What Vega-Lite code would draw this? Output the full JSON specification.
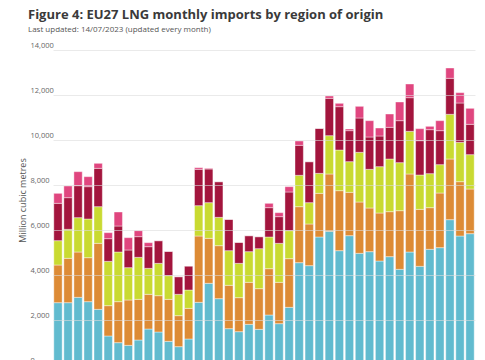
{
  "$schema": "https://vega.github.io/schema/vega-lite/v6.json",
  "autosize": "none",
  "width": 447,
  "height": 315,
  "padding": {"left": 30, "top": 50, "right": 8, "bottom": 0},
  "background": "white",
  "config": {"view": {"stroke": null}},
  "title": {
    "text": "Figure 4: EU27 LNG monthly imports by region of origin",
    "subtitle": "Last updated: 14/07/2023 (updated every month)",
    "anchor": "start",
    "frame": "group",
    "dx": -2,
    "offset": 7,
    "font": "Open Sans",
    "fontSize": 13,
    "fontWeight": "bold",
    "color": "#3a3a3a",
    "subtitleFont": "Open Sans",
    "subtitleFontSize": 8,
    "subtitleColor": "#555555",
    "subtitlePadding": 4
  },
  "data": {
    "values": [
      {"month": "2020-01", "United States": 2770, "Russia": 1674, "Qatar": 1082, "Africa": 1659, "Other": 444},
      {"month": "2020-02", "United States": 2770, "Russia": 1971, "Qatar": 1289, "Africa": 1407, "Other": 518},
      {"month": "2020-03", "United States": 3007, "Russia": 2015, "Qatar": 1526, "Africa": 1422, "Other": 622},
      {"month": "2020-04", "United States": 2815, "Russia": 1955, "Qatar": 1719, "Africa": 1437, "Other": 444},
      {"month": "2020-05", "United States": 2474, "Russia": 2933, "Qatar": 1630, "Africa": 1703, "Other": 223},
      {"month": "2020-06", "United States": 1289, "Russia": 1348, "Qatar": 1970, "Africa": 1008, "Other": 266},
      {"month": "2020-07", "United States": 993, "Russia": 1822, "Qatar": 2207, "Africa": 1155, "Other": 623},
      {"month": "2020-08", "United States": 874, "Russia": 2015, "Qatar": 1437, "Africa": 785, "Other": 548},
      {"month": "2020-09", "United States": 1111, "Russia": 1807, "Qatar": 1867, "Africa": 919, "Other": 266},
      {"month": "2020-10", "United States": 1600, "Russia": 1541, "Qatar": 1155, "Africa": 963, "Other": 178},
      {"month": "2020-11", "United States": 1467, "Russia": 1614, "Qatar": 1437, "Africa": 1008, "Other": 0},
      {"month": "2020-12", "United States": 1052, "Russia": 1866, "Qatar": 1052, "Africa": 1082, "Other": 0},
      {"month": "2021-01", "United States": 815, "Russia": 1378, "Qatar": 948, "Africa": 785, "Other": 0},
      {"month": "2021-02", "United States": 1156, "Russia": 1362, "Qatar": 815, "Africa": 1067, "Other": 0},
      {"month": "2021-03", "United States": 2785, "Russia": 2948, "Qatar": 1348, "Africa": 1615, "Other": 74},
      {"month": "2021-04", "United States": 3630, "Russia": 2000, "Qatar": 1585, "Africa": 1496, "Other": 30},
      {"month": "2021-05", "United States": 2948, "Russia": 2356, "Qatar": 1259, "Africa": 1585, "Other": 0},
      {"month": "2021-06", "United States": 1615, "Russia": 1926, "Qatar": 1540, "Africa": 1393, "Other": 0},
      {"month": "2021-07", "United States": 1481, "Russia": 1512, "Qatar": 1525, "Africa": 934, "Other": 0},
      {"month": "2021-08", "United States": 1807, "Russia": 1867, "Qatar": 1363, "Africa": 711, "Other": 0},
      {"month": "2021-09", "United States": 1585, "Russia": 1808, "Qatar": 1777, "Africa": 534, "Other": 0},
      {"month": "2021-10", "United States": 2222, "Russia": 2059, "Qatar": 1408, "Africa": 1304, "Other": 192},
      {"month": "2021-11", "United States": 1837, "Russia": 1837, "Qatar": 1733, "Africa": 1186, "Other": 177},
      {"month": "2021-12", "United States": 2563, "Russia": 2163, "Qatar": 1244, "Africa": 1719, "Other": 237},
      {"month": "2022-01", "United States": 4548, "Russia": 2489, "Qatar": 1393, "Africa": 1333, "Other": 192},
      {"month": "2022-02", "United States": 4415, "Russia": 1852, "Qatar": 948, "Africa": 1822, "Other": 0},
      {"month": "2022-03", "United States": 5689, "Russia": 1940, "Qatar": 889, "Africa": 2000, "Other": 0},
      {"month": "2022-04", "United States": 5941, "Russia": 2548, "Qatar": 1703, "Africa": 1660, "Other": 103},
      {"month": "2022-05", "United States": 5081, "Russia": 2667, "Qatar": 1807, "Africa": 1926, "Other": 149},
      {"month": "2022-06", "United States": 5748, "Russia": 1926, "Qatar": 1363, "Africa": 1378, "Other": 74},
      {"month": "2022-07", "United States": 4963, "Russia": 2281, "Qatar": 2208, "Africa": 1526, "Other": 518},
      {"month": "2022-08", "United States": 5037, "Russia": 1941, "Qatar": 1718, "Africa": 1437, "Other": 726},
      {"month": "2022-09", "United States": 4622, "Russia": 2133, "Qatar": 2060, "Africa": 1363, "Other": 355},
      {"month": "2022-10", "United States": 4815, "Russia": 2000, "Qatar": 2340, "Africa": 1408, "Other": 592},
      {"month": "2022-11", "United States": 4252, "Russia": 2607, "Qatar": 2134, "Africa": 1866, "Other": 830},
      {"month": "2022-12", "United States": 5022, "Russia": 3467, "Qatar": 1896, "Africa": 1496, "Other": 608},
      {"month": "2023-01", "United States": 4385, "Russia": 2533, "Qatar": 1526, "Africa": 1526, "Other": 534},
      {"month": "2023-02", "United States": 5141, "Russia": 1852, "Qatar": 1511, "Africa": 1955, "Other": 148},
      {"month": "2023-03", "United States": 5215, "Russia": 2429, "Qatar": 1260, "Africa": 1511, "Other": 444},
      {"month": "2023-04", "United States": 6459, "Russia": 2696, "Qatar": 1986, "Africa": 1600, "Other": 459},
      {"month": "2023-05", "United States": 5733, "Russia": 2415, "Qatar": 1748, "Africa": 1748, "Other": 460},
      {"month": "2023-06", "United States": 5837, "Russia": 1985, "Qatar": 1526, "Africa": 1348, "Other": 711}
    ]
  },
  "transform": [
    {"fold": ["United States", "Russia", "Qatar", "Africa", "Other"], "as": ["region", "value"]},
    {"calculate": "indexof(['United States','Russia','Qatar','Africa','Other'], datum.region)", "as": "ord"}
  ],
  "mark": {"type": "bar", "stroke": "white", "strokeWidth": 0.5, "strokeOpacity": 0.8},
  "encoding": {
    "x": {
      "field": "month",
      "type": "ordinal",
      "scale": {"range": [23, 445], "paddingInner": 0.17, "paddingOuter": 0.08},
      "axis": {"title": null, "labels": false, "ticks": false, "domain": false}
    },
    "y": {
      "field": "value",
      "type": "quantitative",
      "stack": "zero",
      "scale": {"domain": [0, 14000], "nice": false},
      "axis": {
        "title": "Million cubic metres",
        "values": [0, 2000, 4000, 6000, 8000, 10000, 12000, 14000],
        "format": ",.0f",
        "labelAlign": "left",
        "labelBaseline": "bottom",
        "labelPadding": 0,
        "labelOffset": -1,
        "ticks": false,
        "domain": false,
        "labelFont": "Open Sans",
        "labelFontSize": 7.5,
        "labelColor": "#666666",
        "gridColor": "#dcdcdc",
        "gridOpacity": 0.6,
        "zindex": 1,
        "titleFont": "Open Sans",
        "titleFontSize": 9,
        "titleFontWeight": "normal",
        "titleColor": "#555555",
        "titleX": -8,
        "titleY": 150,
        "titleAlign": "center",
        "titleBaseline": "middle"
      }
    },
    "color": {
      "field": "region",
      "type": "nominal",
      "scale": {
        "domain": ["United States", "Russia", "Qatar", "Africa", "Other"],
        "range": ["#61bbcf", "#dd8b35", "#c9da31", "#a3153d", "#e0467f"]
      },
      "legend": null
    },
    "order": {"field": "ord", "type": "quantitative"}
  }
}
